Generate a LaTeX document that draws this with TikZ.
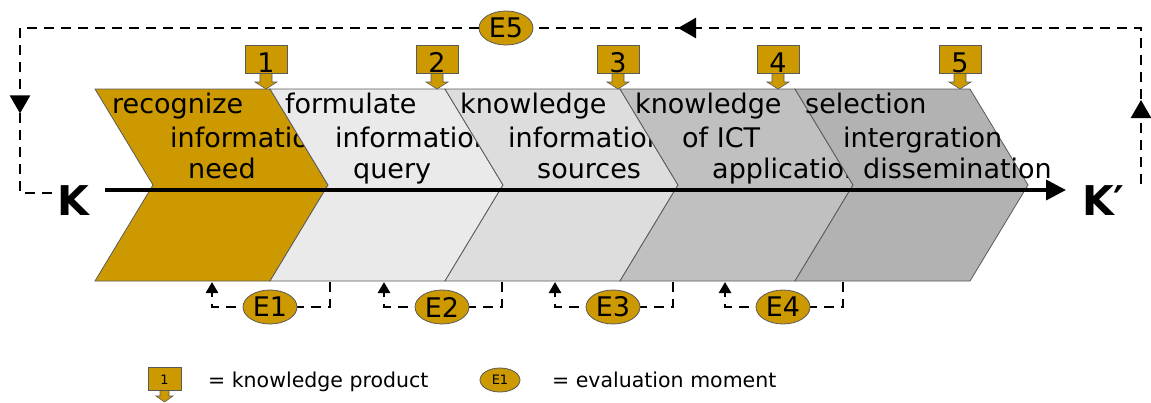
\documentclass[tikz,border=0pt]{standalone}
\usepackage{fontspec}
\setmainfont{DejaVu Sans}
\usetikzlibrary{arrows.meta,shapes.geometric,decorations.markings}

\definecolor{gold}{RGB}{204,153,0}
\definecolor{chevB}{RGB}{234,234,234}
\definecolor{chevC}{RGB}{221,221,221}
\definecolor{chevD}{RGB}{192,192,192}
\definecolor{chevE}{RGB}{178,178,178}
\definecolor{edge}{RGB}{90,90,90}

\tikzset{
  chev/.style={draw=edge, line width=0.8pt},
  chevtxt/.style={anchor=base west, inner sep=0pt, font=\fontsize{27}{32}\selectfont},
  kpbox/.style={draw=edge, fill=gold, line width=0.8pt, minimum width=42pt, minimum height=28pt, inner sep=0pt},
  kparrow/.style={draw=edge, fill=gold, line width=0.6pt},
  kpnum/.style={anchor=base, inner sep=0pt, font=\fontsize{27}{30}\selectfont},
  evalnode/.style={ellipse, draw=edge, fill=gold, line width=0.8pt, minimum width=54pt, minimum height=34pt, inner sep=0pt, font=\fontsize{27}{30}\selectfont},
  loopline/.style={line width=2.6pt, dash pattern=on 10pt off 7pt},
  bigK/.style={anchor=base west, inner sep=0pt, font=\bfseries\fontsize{41}{45}\selectfont},
  legtxt/.style={anchor=base west, inner sep=0pt, font=\fontsize{20.5}{24}\selectfont},
}

\begin{document}
\begin{tikzpicture}[x=1pt, y=-1pt]
  \useasboundingbox (0,0) rectangle (1151,402);

  % Step 1
  \filldraw[chev, fill=gold] (95,89) -- ++(175,0) -- ++(58,96) -- ++(-58,96) -- ++(-175,0) -- ++(58,-96) -- cycle;
  \node[chevtxt] (s1a) at (112,113) {recognize};
  \node[chevtxt] (s1b) at (170,147) {information};
  \node[chevtxt] (s1c) at (188,178) {need};

  % Step 2
  \filldraw[chev, fill=chevB] (270,89) -- ++(175,0) -- ++(58,96) -- ++(-58,96) -- ++(-175,0) -- ++(58,-96) -- cycle;
  \node[chevtxt] (s2a) at (285,113) {formulate};
  \node[chevtxt] (s2b) at (335,147) {information};
  \node[chevtxt] (s2c) at (353,178) {query};

  % Step 3
  \filldraw[chev, fill=chevC] (445,89) -- ++(175,0) -- ++(58,96) -- ++(-58,96) -- ++(-175,0) -- ++(58,-96) -- cycle;
  \node[chevtxt] (s3a) at (460,113) {knowledge};
  \node[chevtxt] (s3b) at (508,147) {information};
  \node[chevtxt] (s3c) at (537,178) {sources};

  % Step 4
  \filldraw[chev, fill=chevD] (620,89) -- ++(175,0) -- ++(58,96) -- ++(-58,96) -- ++(-175,0) -- ++(58,-96) -- cycle;
  \node[chevtxt] (s4a) at (635,113) {knowledge};
  \node[chevtxt] (s4b) at (682,147) {of ICT};
  \node[chevtxt] (s4c) at (712,178) {application};

  % Step 5
  \filldraw[chev, fill=chevE] (795,89) -- ++(175,0) -- ++(58,96) -- ++(-58,96) -- ++(-175,0) -- ++(58,-96) -- cycle;
  \node[chevtxt] (s5a) at (805,113) {selection};
  \node[chevtxt] (s5b) at (843,147) {intergration};
  \node[chevtxt] (s5c) at (863,178) {dissemination};

  % K axis
  \node[bigK] (K) at (57,215) {K};
  \node[bigK] (Kp) at (1082,215) {K′};
  \coordinate (axL) at (105,190);
  \coordinate (axR) at (1066,190);
  \draw[line width=3.5pt, -{Triangle[length=20pt,width=20pt]}] (axL) -- (axR);

  % Knowledge products
  \foreach \i/\x in {1/266,2/437,3/618,4/778,5/960}{
    \draw[kparrow] (\x-6,70) -- (\x-6,82) -- (\x-11,82) -- (\x,89) -- (\x+11,82) -- (\x+6,82) -- (\x+6,70);
    \node[kpbox] (kp\i) at (\x,59) {};
    \node[kpnum] (kn\i) at (\x,72) {\i};
  }

  % Evaluation loops
  \foreach \i/\r in {1/330,2/502,3/673,4/843}{
    \coordinate (eo\i) at (\r,282);
    \coordinate (ei\i) at (\r-118,282);
    \draw[loopline] (eo\i) |- (\r-60,307);
    \draw[loopline, -{Triangle[length=11pt,width=12pt]}] (\r-60,307) -| (ei\i);
    \node[evalnode] (E\i) at (\r-60,307) {E\i};
  }

  % Feedback loop K' -> K
  \coordinate (lpR) at (1141,184);
  \coordinate (lpL) at (52,193);
  \node[evalnode] (E5) at (506,28) {E5};
  \draw[loopline, postaction={decorate}, decoration={markings,
      mark=at position 84pt with {\arrow{Triangle[length=18pt,width=20pt]}},
      mark=at position 619pt with {\arrow{Triangle[length=18pt,width=20pt]}}}]
    (lpR) |- (E5.east);
  \draw[loopline, postaction={decorate}, decoration={markings,
      mark=at position 544pt with {\arrow{Triangle[length=18pt,width=20pt]}}}]
    (E5.west) -| ([xshift=-32pt]lpL) -- (lpL);

  % Legend
  \draw[kparrow] (160,388) -- (160,396) -- (156,396) -- (164.5,402) -- (173,396) -- (169,396) -- (169,388);
  \node[kpbox, minimum width=33pt, minimum height=23pt] (lg1) at (164.5,378.5) {};
  \node[anchor=base, inner sep=0pt, font=\fontsize{13}{15}\selectfont] (lg1n) at (164.5,384) {1};
  \node[legtxt] (lt1) at (208,387) {= knowledge product};
  \node[evalnode, minimum width=40pt, minimum height=24pt, font=\fontsize{13}{15}\selectfont] (lg2) at (500,380) {E1};
  \node[legtxt] (lt2) at (552,387) {= evaluation moment};
\end{tikzpicture}
\end{document}
